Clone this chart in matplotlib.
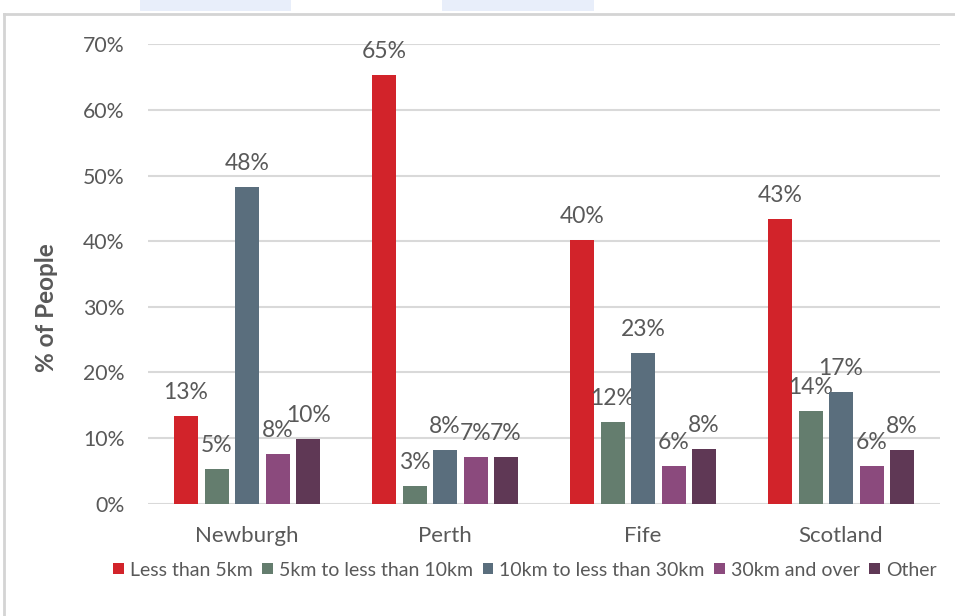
import matplotlib
matplotlib.use("Agg")
import matplotlib.pyplot as plt
from matplotlib.patches import Rectangle
from matplotlib.lines import Line2D
import numpy as np

# Travel distance by area
areas = ["Newburgh", "Perth", "Fife", "Scotland"]
series = ["Less than 5km", "5km to less than 10km", "10km to less than 30km",
          "30km and over", "Other"]
less_5km = [13.4, 65.3, 40.2, 43.4]
km5_10 = [5.2, 2.6, 12.4, 14.1]
km10_30 = [48.3, 8.1, 22.9, 17.0]
km30_plus = [7.5, 7.1, 5.7, 5.7]
other = [9.9, 7.1, 8.3, 8.1]
yticks = [0, 10, 20, 30, 40, 50, 60, 70]

values = [less_5km, km5_10, km10_30, km30_plus, other]
colors = ["#D2232A", "#647D6E", "#5A6E7D", "#8B4A7D", "#5F3855"]
text_col = "#595959"
font = ["Lato", "DejaVu Sans"]
plt.rcParams["font.family"] = font

W, H = 955, 616
fig = plt.figure(figsize=(W / 100, H / 100), dpi=100)
fig.patch.set_facecolor("white")

# page chrome: outer frame and two pale tabs along the top edge
fig.add_artist(Line2D([4 / W, 4 / W], [0, 1 - 14 / H], color="#D4D4D4", lw=2,
                      transform=fig.transFigure))
fig.add_artist(Line2D([4 / W, 1], [1 - 14 / H, 1 - 14 / H], color="#D4D4D4", lw=2,
                      transform=fig.transFigure))
for x0, x1 in [(140, 291), (442, 594)]:
    fig.add_artist(Rectangle((x0 / W, 1 - 11 / H), (x1 - x0) / W, 11 / H,
                             facecolor="#E8EEFA", edgecolor="none",
                             transform=fig.transFigure))

ax = fig.add_axes([148 / W, 112.5 / H, (940 - 148) / W, (503.5 - 44.3) / H])
ax.set_facecolor("white")

x = np.arange(len(areas))
width = 24 / 198
step = 30.5 / 198
for i, (name, vals, col) in enumerate(zip(series, values, colors)):
    pos = x + (i - 2) * step
    bars = ax.bar(pos, vals, width, color=col, label=name, zorder=3)
    for b, v in zip(bars, vals):
        ax.annotate(f"{v:.0f}%", (b.get_x() + b.get_width() / 2, v),
                    xytext=(0, 12.2), textcoords="offset points",
                    ha="center", va="baseline", fontsize=16.5, color=text_col)

ax.set_xlim(-0.5, 3.5)
ax.set_ylim(0, 70)
ax.set_yticks(yticks)
ax.set_yticklabels([f"{t}%" for t in yticks])
ax.set_xticks(x)
ax.set_xticklabels(areas)
ax.yaxis.grid(True, color="#D9D9D9", lw=1.5, zorder=0)
ax.set_axisbelow(True)
for s in ax.spines.values():
    s.set_visible(False)
ax.tick_params(axis="both", length=0, labelcolor=text_col)
ax.tick_params(axis="y", pad=17, labelsize=15.3)
ax.tick_params(axis="x", pad=16.5, labelsize=16)

fig.text(47 / W, 1 - 308 / H, "% of People", rotation=90, ha="center",
         va="center", fontsize=17.5, fontweight="bold", color=text_col)

handles = [Rectangle((0, 0), 1, 1, facecolor=c) for c in colors]
fig.legend(handles, series, loc="center", bbox_to_anchor=(525 / W, 1 - 570 / H),
           ncol=5, frameon=False, fontsize=14.0, labelcolor=text_col,
           handlelength=0.55, handleheight=0.55, handletextpad=0.3,
           columnspacing=0.5, borderaxespad=0)

fig.savefig("out.png", dpi=100, facecolor="white")
